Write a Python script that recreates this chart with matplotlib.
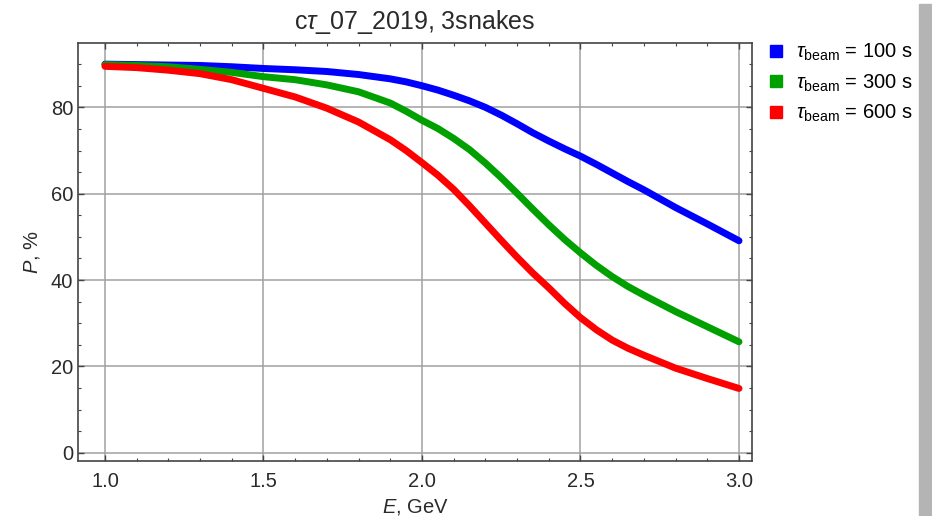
import numpy as np
import matplotlib
matplotlib.use('Agg')
import matplotlib.pyplot as plt
from matplotlib.lines import Line2D
from matplotlib.patches import Rectangle
from matplotlib.ticker import MultipleLocator

plt.rcParams['font.family'] = ['Liberation Sans', 'DejaVu Sans']
plt.rcParams['mathtext.fontset'] = 'custom'
plt.rcParams['mathtext.rm'] = 'Liberation Sans'
plt.rcParams['mathtext.it'] = 'Liberation Sans:italic'

# energy, GeV (denser where the curves bend)
energy = [1.0, 1.1, 1.2, 1.3, 1.4, 1.5, 1.6, 1.7, 1.8, 1.9, 1.95,
          2.0, 2.05, 2.1, 2.15, 2.2, 2.25, 2.3, 2.35, 2.4, 2.45,
          2.5, 2.55, 2.6, 2.65, 2.7, 2.8, 2.9, 3.0]
# polarization, %
p_100 = [90.0, 89.9, 89.8, 89.7, 89.4, 89.0, 88.7, 88.3, 87.6, 86.6, 85.9,
         85.0, 84.0, 82.8, 81.5, 80.0, 78.2, 76.2, 74.1, 72.2, 70.4,
         68.7, 66.8, 64.8, 62.8, 60.9, 56.8, 53.0, 49.1]
p_300 = [89.9, 89.7, 89.4, 88.8, 88.1, 87.1, 86.4, 85.2, 83.6, 81.0, 79.1,
         77.0, 75.1, 72.8, 70.2, 67.1, 63.7, 60.1, 56.4, 52.8, 49.4,
         46.3, 43.4, 40.8, 38.5, 36.5, 32.7, 29.2, 25.7]
p_600 = [89.5, 89.2, 88.6, 87.8, 86.4, 84.4, 82.4, 79.8, 76.6, 72.5, 70.0,
         67.2, 64.3, 61.0, 57.2, 53.2, 49.2, 45.3, 41.6, 38.2, 34.6,
         31.3, 28.5, 26.1, 24.2, 22.6, 19.6, 17.2, 14.9]

labels = [r'$\tau_{\rm beam}$ = 100 s', r'$\tau_{\rm beam}$ = 300 s', r'$\tau_{\rm beam}$ = 600 s']
colors = ['#0000ff', '#00a000', '#ff0000']

fig = plt.figure(figsize=(9.32, 5.16), dpi=100)
ax = fig.add_axes([78 / 932, 1 - 461 / 516, 674 / 932, 418 / 516])

for ys, c in zip([p_100, p_300, p_600], colors):
    ax.plot(energy, ys, color=c, lw=5, solid_capstyle='round', solid_joinstyle='round', zorder=3)

ax.set_xlim(0.915, 3.041)
ax.set_ylim(-1.9, 94.9)
ax.xaxis.set_major_locator(MultipleLocator(0.5))
ax.xaxis.set_minor_locator(MultipleLocator(0.1))
ax.yaxis.set_major_locator(MultipleLocator(20))
ax.yaxis.set_minor_locator(MultipleLocator(5))
ax.xaxis.set_major_formatter(plt.FormatStrFormatter('%.1f'))

ax.grid(True, which='major', color='#a0a0a0', lw=1.1)
ax.tick_params(which='both', direction='in', top=True, right=True, colors='#444444',
               labelcolor='#2a2a2a', labelsize=14.5)
ax.tick_params(which='major', length=4.5, width=1)
ax.tick_params(which='minor', length=2.5, width=0.8)
ax.tick_params(axis='x', pad=8)
for s in ax.spines.values():
    s.set_color('#444444')
    s.set_linewidth(1.2)

ax.set_xlabel(r'$E$, GeV', fontsize=14.5, color='#2a2a2a', labelpad=4)
ax.set_ylabel(r'$P$, %', fontsize=14.5, color='#2a2a2a', labelpad=6)
ax.set_title(r'c$\tau$_07_2019, 3snakes', fontsize=18, color='#2a2a2a', pad=10)

handles = [Line2D([], [], marker='s', ls='none', color=c, markersize=8) for c in colors]
fig.legend(handles, labels, loc='upper left', bbox_to_anchor=(760 / 932, 1 - 34 / 516),
           frameon=False, fontsize=14.5, handlelength=0.8, handletextpad=0.6,
           labelspacing=0.45, borderaxespad=0)

# grey strip at the right edge of the screenshot
fig.patches.append(Rectangle((919 / 932, 0), 13 / 932, 1 - 4 / 516, transform=fig.transFigure,
                             color='#b4b4b4', zorder=0))

fig.savefig('out.png', dpi=100)
